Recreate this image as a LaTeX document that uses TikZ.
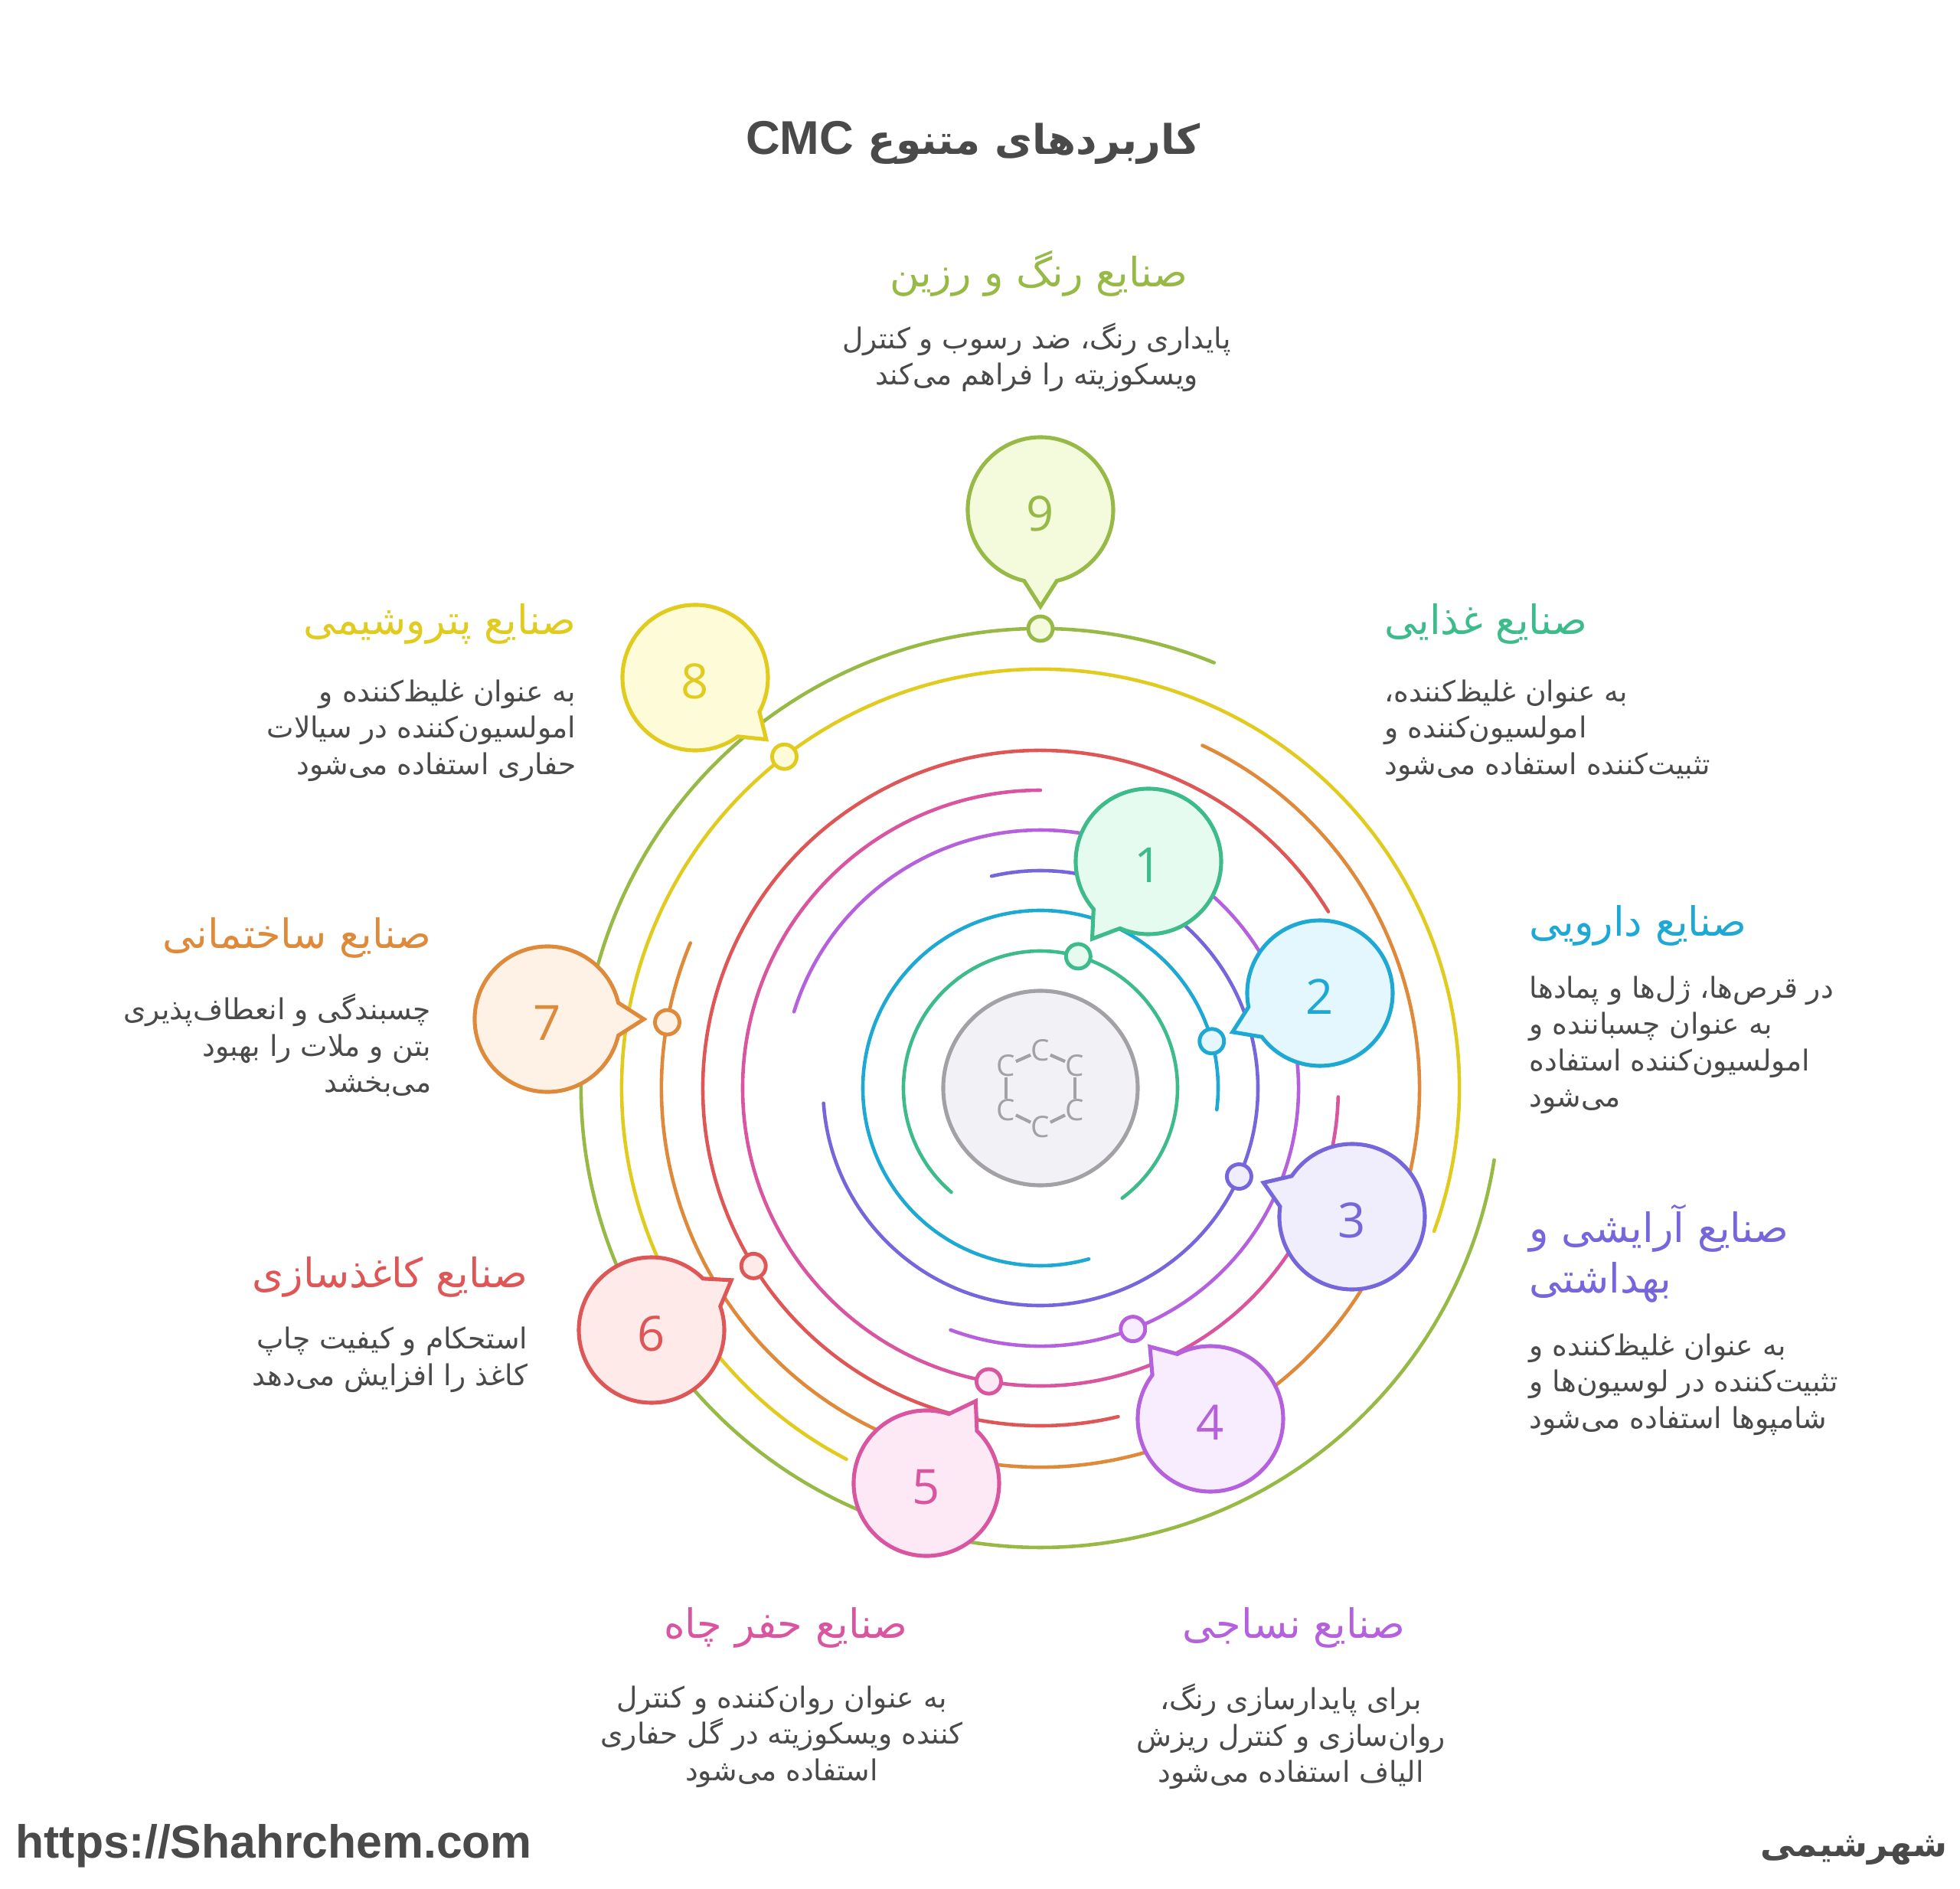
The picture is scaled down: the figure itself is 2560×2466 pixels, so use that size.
\documentclass[tikz,border=0pt]{standalone}
\usepackage{fontspec}
\usetikzlibrary{calc}
\setmainfont{Open Sans}
\newfontfamily\arfont[Script=Arabic]{DejaVu Sans}
\newfontfamily\lafont{Liberation Sans}
\TeXXeTstate=1
\newcommand{\rl}[1]{\beginR#1\endR}
\definecolor{food}{HTML}{3DBB8B}
\definecolor{foodfill}{HTML}{E6FBF0}
\definecolor{pharma}{HTML}{1EA8D4}
\definecolor{pharmafill}{HTML}{E5F7FE}
\definecolor{cosmetic}{HTML}{7566DC}
\definecolor{cosmeticfill}{HTML}{F0EDFD}
\definecolor{textile}{HTML}{B561DE}
\definecolor{textilefill}{HTML}{F8EDFE}
\definecolor{drill}{HTML}{D9559F}
\definecolor{drillfill}{HTML}{FDE9F5}
\definecolor{paper}{HTML}{DF5656}
\definecolor{paperfill}{HTML}{FEEBE9}
\definecolor{build}{HTML}{DE8A3A}
\definecolor{buildfill}{HTML}{FEF2E6}
\definecolor{petro}{HTML}{E0CB1E}
\definecolor{petrofill}{HTML}{FEFBD9}
\definecolor{paint}{HTML}{97B946}
\definecolor{paintfill}{HTML}{F4FBDD}
\definecolor{core}{HTML}{A3A1A5}
\definecolor{corefill}{HTML}{F2F1F5}
\definecolor{ink}{HTML}{4A4A4A}
\tikzset{
  ring/.style={draw=#1,line width=1.3pt,line cap=round},
  bubble/.style={draw=#1,fill=#1fill,line width=1.45pt,line join=miter},
  dot/.style={circle,draw=#1,fill=#1fill,line width=1.4pt,inner sep=0pt,minimum size=0.32cm},
  digit/.style={text=#1,yshift=-0.05cm,font=\fontsize{18}{20}\selectfont},
  atom/.style={text=core,inner sep=0pt,font=\fontsize{11}{12}\selectfont},
  bond/.style={draw=core,line width=1.2pt},
  headline/.style={text=#1,font=\arfont\fontsize{15}{18.6}\selectfont},
  body/.style={text=ink,font=\arfont\fontsize{10.7}{13.5}\selectfont},
  maintitle/.style={text=ink,font=\arfont\bfseries\fontsize{15.2}{20}\selectfont}
}
\begin{document}
\begin{tikzpicture}[x=0.01cm,y=0.01cm]
  \useasboundingbox (-1359,-1045) rectangle (1201,1421);
  \coordinate (B1) at (141,296);
  \coordinate (B2) at (365,124);
  \coordinate (B3) at (407,-168);
  \coordinate (B4) at (222,-432);
  \coordinate (B5) at (-149,-516);
  \coordinate (B6) at (-508,-316);
  \coordinate (B7) at (-644,90);
  \coordinate (B8) at (-451,536);
  \coordinate (B9) at (0,755);
  \draw[ring=food] (-53.4:179) arc[start angle=-53.4,end angle=229.4,radius=179];
  \draw[ring=pharma] (-7:232) arc[start angle=-7,end angle=285.8,radius=232];
  \draw[ring=cosmetic] (184:284) arc[start angle=184,end angle=463,radius=284];
  \draw[ring=textile] (-110.4:337) arc[start angle=-110.4,end angle=162.8,radius=337];
  \draw[ring=drill] (90:389) arc[start angle=90,end angle=358.3,radius=389];
  \draw[ring=paper] (31.5:441) arc[start angle=31.5,end angle=283.3,radius=441];
  \draw[ring=build] (157.5:495) arc[start angle=157.5,end angle=424.7,radius=495];
  \draw[ring=petro] (-20:547) arc[start angle=-20,end angle=242.4,radius=547];
  \draw[ring=paint] (67.8:600) arc[start angle=67.8,end angle=351,radius=600];
  \node[dot=food] (d1) at (74:179) {};
  \node[dot=pharma] (d2) at (15.3:232) {};
  \node[dot=cosmetic] (d3) at (-24:284) {};
  \node[dot=textile] (d4) at (-69:337) {};
  \node[dot=drill] (d5) at (260:389) {};
  \node[dot=paper] (d6) at (211.8:441) {};
  \node[dot=build] (d7) at (170:495) {};
  \node[dot=petro] (d8) at (127.7:547) {};
  \node[dot=paint] (d9) at (90:600) {};
  \draw[bubble=food] ($(B1)+(247:95)$) arc[start angle=247,delta angle=334,radius=95] -- ($(B1)+(234:125)$) -- cycle;
  \draw[bubble=pharma] ($(B2)+(217:95)$) arc[start angle=217,delta angle=334,radius=95] -- ($(B2)+(204:125)$) -- cycle;
  \draw[bubble=cosmetic] ($(B3)+(172:95)$) arc[start angle=172,delta angle=334,radius=95] -- ($(B3)+(159:124)$) -- cycle;
  \draw[bubble=textile] ($(B4)+(143:95)$) arc[start angle=143,delta angle=334,radius=95] -- ($(B4)+(130:123)$) -- cycle;
  \draw[bubble=drill] ($(B5)+(72:95)$) arc[start angle=72,delta angle=334,radius=95] -- ($(B5)+(59:125)$) -- cycle;
  \draw[bubble=paper] ($(B6)+(45:95)$) arc[start angle=45,delta angle=334,radius=95] -- ($(B6)+(32:123)$) -- cycle;
  \draw[bubble=build] ($(B7)+(13:95)$) arc[start angle=13,delta angle=334,radius=95] -- ($(B7)+(0:126)$) -- cycle;
  \draw[bubble=petro] ($(B8)+(-28:95)$) arc[start angle=-28,delta angle=334,radius=95] -- ($(B8)+(-41:123)$) -- cycle;
  \draw[bubble=paint] ($(B9)+(283:95)$) arc[start angle=283,delta angle=334,radius=95] -- ($(B9)+(270:126)$) -- cycle;
  \node[digit=food] (n1) at (B1) {1};
  \node[digit=pharma] (n2) at (B2) {2};
  \node[digit=cosmetic] (n3) at (B3) {3};
  \node[digit=textile] (n4) at (B4) {4};
  \node[digit=drill] (n5) at (B5) {5};
  \node[digit=paper] (n6) at (B6) {6};
  \node[digit=build] (n7) at (B7) {7};
  \node[digit=petro] (n8) at (B8) {8};
  \node[digit=paint] (n9) at (B9) {9};
  \draw[draw=core,fill=corefill,line width=1.45pt] (0,0) circle[radius=127];
  \node[atom] (c1) at (0,49) {C};
  \node[atom] (c2) at (45,29) {C};
  \node[atom] (c3) at (45,-29) {C};
  \node[atom] (c4) at (0,-51) {C};
  \node[atom] (c5) at (-45,-29) {C};
  \node[atom] (c6) at (-45,29) {C};
  \draw[bond] (c1) -- (c2);
  \draw[bond] (c2) -- (c3);
  \draw[bond] (c3) -- (c4);
  \draw[bond] (c4) -- (c5);
  \draw[bond] (c5) -- (c6);
  \draw[bond] (c6) -- (c1);
  \node[maintitle] (title) at (-88,1235) {\rl{کاربردهای متنوع {\lafont\fontsize{17.6}{20}\selectfont\beginL CMC\endL}}};
  \node[headline=paint] (h9) at (-2,1064) {\rl{صنایع رنگ و رزین}};
  \node[body,align=center] (t9) at (-5,954) {\rl{پایداری رنگ، ضد رسوب و کنترل}\\\rl{ویسکوزیته را فراهم می‌کند}};
  \node[headline=food,anchor=west,inner xsep=0pt] (h1) at (449,606) {\rl{صنایع غذایی}};
  \node[body,align=left,anchor=west,inner xsep=0pt] (t1) at (449,467) {\rl{به عنوان غلیظ‌کننده،}\\\rl{امولسیون‌کننده و}\\\rl{تثبیت‌کننده استفاده می‌شود}};
  \node[headline=pharma,anchor=west,inner xsep=0pt] (h2) at (638,212) {\rl{صنایع دارویی}};
  \node[body,align=left,anchor=west,inner xsep=0pt] (t2) at (638,56) {\rl{در قرص‌ها، ژل‌ها و پمادها}\\\rl{به عنوان چسباننده و}\\\rl{امولسیون‌کننده استفاده}\\\rl{می‌شود}};
  \node[headline=cosmetic,align=left,anchor=west,inner xsep=0pt] (h3) at (638,-216) {\rl{صنایع آرایشی و}\\\rl{بهداشتی}};
  \node[body,align=left,anchor=west,inner xsep=0pt] (t3) at (638,-387) {\rl{به عنوان غلیظ‌کننده و}\\\rl{تثبیت‌کننده در لوسیون‌ها و}\\\rl{شامپوها استفاده می‌شود}};
  \node[headline=textile] (h4) at (331,-705) {\rl{صنایع نساجی}};
  \node[body,align=center] (t4) at (327,-847) {\rl{برای پایدارسازی رنگ،}\\\rl{روان‌سازی و کنترل ریزش}\\\rl{الیاف استفاده می‌شود}};
  \node[headline=drill] (h5) at (-333,-705) {\rl{صنایع حفر چاه}};
  \node[body,align=center] (t5) at (-338,-847) {\rl{به عنوان روان‌کننده و کنترل}\\\rl{کننده ویسکوزیته در گل حفاری}\\\rl{استفاده می‌شود}};
  \node[headline=paper,anchor=east,inner xsep=0pt] (h6) at (-669,-247) {\rl{صنایع کاغذسازی}};
  \node[body,align=right,anchor=east,inner xsep=0pt] (t6) at (-669,-355) {\rl{استحکام و کیفیت چاپ}\\\rl{کاغذ را افزایش می‌دهد}};
  \node[headline=build,anchor=east,inner xsep=0pt] (h7) at (-795,196) {\rl{صنایع ساختمانی}};
  \node[body,align=right,anchor=east,inner xsep=0pt] (t7) at (-795,56) {\rl{چسبندگی و انعطاف‌پذیری}\\\rl{بتن و ملات را بهبود}\\\rl{می‌بخشد}};
  \node[headline=petro,anchor=east,inner xsep=0pt] (h8) at (-606,606) {\rl{صنایع پتروشیمی}};
  \node[body,align=right,anchor=east,inner xsep=0pt] (t8) at (-606,467) {\rl{به عنوان غلیظ‌کننده و}\\\rl{امولسیون‌کننده در سیالات}\\\rl{حفاری استفاده می‌شود}};
  \node[text=ink,anchor=west,inner xsep=0pt,font=\lafont\bfseries\fontsize{17.25}{20}\selectfont] (site) at (-1339,-990) {https://Shahrchem.com};
  \node[text=ink,anchor=east,inner xsep=0pt,font=\arfont\bfseries\fontsize{13}{18}\selectfont] (brand) at (1185,-996) {\rl{شهرشیمی}};
\end{tikzpicture}
\end{document}
